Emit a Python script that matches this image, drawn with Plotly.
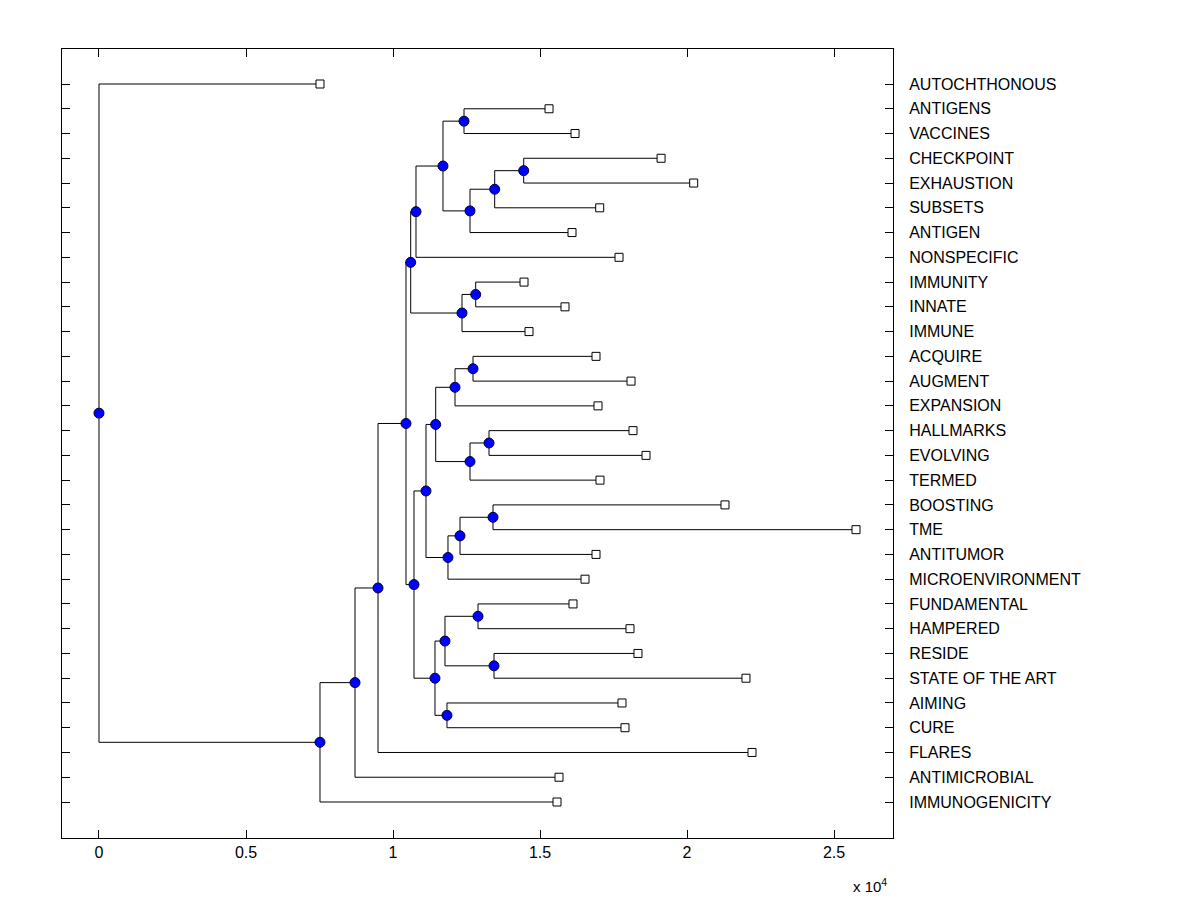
import plotly.graph_objects as go

# ---------------- data ----------------
leaf_labels = ["AUTOCHTHONOUS", "ANTIGENS", "VACCINES", "CHECKPOINT", "EXHAUSTION",
               "SUBSETS", "ANTIGEN", "NONSPECIFIC", "IMMUNITY", "INNATE", "IMMUNE",
               "ACQUIRE", "AUGMENT", "EXPANSION", "HALLMARKS", "EVOLVING", "TERMED",
               "BOOSTING", "TME", "ANTITUMOR", "MICROENVIRONMENT", "FUNDAMENTAL",
               "HAMPERED", "RESIDE", "STATE OF THE ART", "AIMING", "CURE", "FLARES",
               "ANTIMICROBIAL", "IMMUNOGENICITY"]
leaf_values = [7516, 15306, 16190, 19116, 20226,
               17029, 16087, 17686, 14455, 15849, 14625,
               16903, 18094, 16971, 18161, 18604, 17039,
               21290, 25746, 16903, 16529, 16121,
               18059, 18331, 22004, 17787, 17889, 22209,
               15645, 15577]

node_names = ["root", "n1", "n2", "n3", "n4", "n5", "n6", "n7", "n8", "n9", "n10",
              "n11", "n12", "n13", "n14", "n15", "n16", "n17", "n18", "n19", "n20",
              "n21", "n22", "n23", "n24", "n25", "n26", "n27", "n28"]
node_heights = [0, 7516, 8707, 9489, 10441, 10601, 10781, 11699, 12414, 12618, 13458,
                14444, 12346, 12812, 10713, 11121, 11451, 12108, 12720, 12618, 13264,
                11869, 12278, 13400, 11427, 11767, 12890, 11835, 13434]
node_children = [("AUTOCHTHONOUS", "n1"), ("n2", "IMMUNOGENICITY"), ("n3", "ANTIMICROBIAL"),
                 ("n4", "FLARES"), ("n5", "n14"), ("n6", "n12"), ("n7", "NONSPECIFIC"),
                 ("n8", "n9"), ("ANTIGENS", "VACCINES"), ("n10", "ANTIGEN"),
                 ("n11", "SUBSETS"), ("CHECKPOINT", "EXHAUSTION"), ("n13", "IMMUNE"),
                 ("IMMUNITY", "INNATE"), ("n15", "n24"), ("n16", "n21"), ("n17", "n19"),
                 ("n18", "EXPANSION"), ("ACQUIRE", "AUGMENT"), ("n20", "TERMED"),
                 ("HALLMARKS", "EVOLVING"), ("n22", "MICROENVIRONMENT"),
                 ("n23", "ANTITUMOR"), ("BOOSTING", "TME"), ("n25", "n27"),
                 ("n26", "n28"), ("FUNDAMENTAL", "HAMPERED"), ("AIMING", "CURE"),
                 ("RESIDE", "STATE OF THE ART")]

tick_vals = [0, 5000, 10000, 15000, 20000, 25000]
tick_text = ["0", "0.5", "1", "1.5", "2", "2.5"]

# ---------------- build tree ----------------
pos_x = {}
pos_y = {}
for i, lab in enumerate(leaf_labels):
    pos_x[lab] = leaf_values[i]
    pos_y[lab] = i + 1
node_map = {n: (node_heights[i], node_children[i]) for i, n in enumerate(node_names)}


def get_y(n):
    if n in pos_y:
        return pos_y[n]
    h, ch = node_map[n]
    y = sum(get_y(c) for c in ch) / len(ch)
    pos_x[n] = h
    pos_y[n] = y
    return y


get_y("root")

lx, ly = [], []
for n in node_names:
    h, ch = node_map[n]
    ys = [pos_y[c] for c in ch]
    lx += [h, h, None]
    ly += [min(ys), max(ys), None]
    for c in ch:
        lx += [h, pos_x[c], None]
        ly += [pos_y[c], pos_y[c], None]

fig = go.Figure()
fig.add_trace(go.Scatter(x=lx, y=ly, mode="lines",
                         line=dict(color="black", width=1), hoverinfo="skip",
                         showlegend=False))
fig.add_trace(go.Scatter(x=[pos_x[l] for l in leaf_labels], y=[pos_y[l] for l in leaf_labels],
                         mode="markers",
                         marker=dict(symbol="square", size=8, color="white",
                                     line=dict(color="black", width=1)),
                         showlegend=False))
fig.add_trace(go.Scatter(x=[pos_x[n] for n in node_names], y=[pos_y[n] for n in node_names],
                         mode="markers",
                         marker=dict(symbol="circle", size=10, color="#0000ff",
                                     line=dict(color="#000033", width=1)),
                         showlegend=False))

font = dict(family="Liberation Sans, Arial, sans-serif", size=16, color="black")
fig.update_layout(
    width=1192, height=892,
    margin=dict(l=54, r=307, t=41, b=62),
    paper_bgcolor="white", plot_bgcolor="white",
    font=font,
    xaxis=dict(range=[-1258, 27004], tickvals=tick_vals, ticktext=tick_text,
               ticks="inside", ticklen=8, tickcolor="black", showline=True,
               linecolor="black", linewidth=1, mirror="ticks", showgrid=False,
               zeroline=False, tickfont=font),
    yaxis=dict(range=[31.454, -0.414], tickvals=list(range(1, len(leaf_labels) + 1)),
               ticktext=leaf_labels, side="right", ticks="inside", ticklen=8,
               tickcolor="black", showline=True, linecolor="black", linewidth=1,
               mirror="ticks", showgrid=False, zeroline=False, tickfont=font,
               ticklabelstandoff=12),
    annotations=[dict(text="x 10<sup>4</sup>", xref="paper", yref="paper",
                      x=0.949, y=-0.0605, xanchor="left", yanchor="middle",
                      showarrow=False, font=dict(family=font["family"], size=15,
                                                 color="black"))],
)
fig.write_html("out.html")
